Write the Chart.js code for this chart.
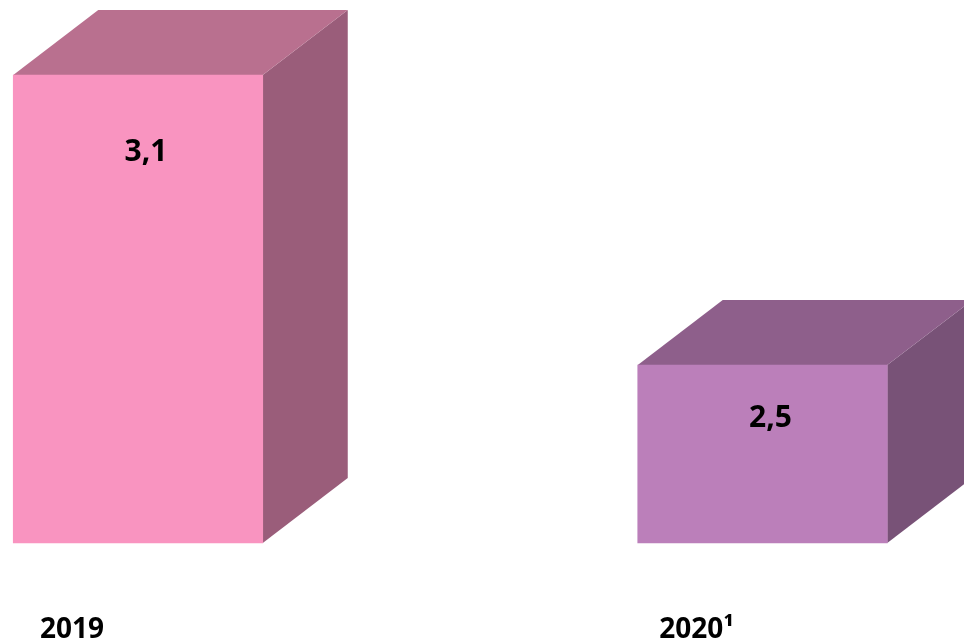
<!DOCTYPE html>
<html lang="en">
<head>
    <meta charset="UTF-8">
    <title>3D bars</title>
    <script src="https://cdn.jsdelivr.net/npm/chart.js"></script>
    <style>
        html, body { margin: 0; padding: 0; background: #fff; }
        #wrap { width: 964px; height: 642px; }
    </style>
</head>
<body>
    <div id="wrap"><canvas id="chart"></canvas></div>
    <script>
        const categories = ['2019', '2020¹'];
        const values = [3.1, 2.5];
        const valueLabels = ['3,1', '2,5'];
        const axisMin = 2.132;
        const axisMax = 3.1;
        const frontColors = ['#f994c0', '#bb7fba'];
        const topColors = ['#b9708f', '#8e5f8b'];
        const sideColors = ['#9a5d7a', '#785277'];

        // draws the side and top faces behind the bars, chart.js only does the front
        const boxFaces = {
            id: 'boxFaces',
            beforeDatasetsDraw(chart) {
                const ctx = chart.ctx;
                const dx = 85, dy = -65;
                chart.getDatasetMeta(0).data.forEach((bar, i) => {
                    const l = bar.x - bar.width / 2, r = bar.x + bar.width / 2;
                    ctx.fillStyle = sideColors[i];
                    ctx.beginPath();
                    ctx.moveTo(r, bar.y);
                    ctx.lineTo(r + dx, bar.y + dy);
                    ctx.lineTo(r + dx, bar.base + dy);
                    ctx.lineTo(r, bar.base);
                    ctx.closePath();
                    ctx.fill();
                    ctx.fillStyle = topColors[i];
                    ctx.beginPath();
                    ctx.moveTo(l, bar.y);
                    ctx.lineTo(l + dx, bar.y + dy);
                    ctx.lineTo(r + dx, bar.y + dy);
                    ctx.lineTo(r, bar.y);
                    ctx.closePath();
                    ctx.fill();
                });
            },
            afterDatasetsDraw(chart) {
                const ctx = chart.ctx;
                const drop = [77, 53];
                ctx.save();
                ctx.font = 'bold 30px "Open Sans"';
                ctx.fillStyle = '#000';
                ctx.textAlign = 'center';
                ctx.textBaseline = 'middle';
                chart.getDatasetMeta(0).data.forEach((bar, i) => {
                    ctx.fillText(valueLabels[i], bar.x + 8, bar.y + drop[i]);
                });
                ctx.restore();
            }
        };

        new Chart(document.getElementById('chart'), {
            type: 'bar',
            data: {
                labels: categories,
                datasets: [{
                    data: values,
                    base: axisMin,
                    backgroundColor: frontColors,
                    barThickness: 249.5,
                    clip: false
                }]
            },
            options: {
                responsive: true,
                maintainAspectRatio: false,
                animation: false,
                layout: { padding: { left: 138, right: 201.5, top: 75, bottom: 0 } },
                plugins: { legend: { display: false }, tooltip: { enabled: false } },
                scales: {
                    x: {
                        offset: false,
                        grid: { display: false },
                        border: { display: false },
                        // fixed height, padding counts double in the fit otherwise
                        afterFit(scale) { scale.height = 99; },
                        ticks: {
                            color: '#000',
                            padding: 62,
                            labelOffset: -66,
                            maxRotation: 0,
                            font: { family: '"Open Sans"', size: 28, weight: 'bold' }
                        }
                    },
                    y: {
                        display: false,
                        min: axisMin,
                        max: axisMax
                    }
                }
            },
            plugins: [boxFaces]
        });
    </script>
</body>
</html>
